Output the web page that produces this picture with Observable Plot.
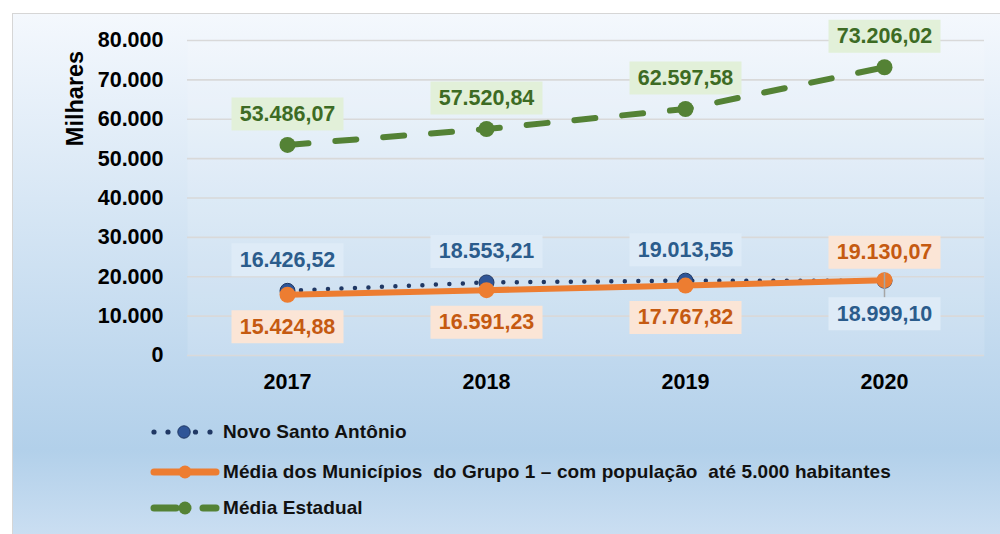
<!DOCTYPE html>
<html>
<head>
<meta charset="utf-8">
<script src="https://cdn.jsdelivr.net/npm/d3@7"></script>
<script src="https://cdn.jsdelivr.net/npm/@observablehq/plot@0.6"></script>
<style>
  html, body { margin: 0; padding: 0; background: #ffffff; overflow: hidden; }
  #wrap { position: relative; width: 1000px; height: 534px; overflow: hidden; font-family: "Liberation Sans", Arial, sans-serif; }
  #frame { position: absolute; left: 12px; top: 13px; width: 1000px; height: 540px; box-sizing: border-box;
    border: 1.5px solid #d6d6d6;
    background: linear-gradient(to bottom, #f4f8fd 0%, #b2d0ea 81%, #cfe1f3 100%); }
  #chart { position: absolute; left: 0; top: 0; }
  .leg { position: absolute; left: 150px; height: 24px; display: flex; align-items: center; }
  .leg svg { display: block; margin-right: 3px; }
  .leg span { font-size: 19px; font-weight: bold; color: #111; white-space: pre; letter-spacing: 0.1px; }
</style>
</head>
<body>
<div id="wrap">
  <div id="frame"></div>
  <div id="chart"></div>
  <div id="legend"></div>
</div>
<script>
// ---- data ----
const years = ["2017", "2018", "2019", "2020"];
const novoSanto = [16426.52, 18553.21, 19013.55, 18999.10];
const grupo1 = [15424.88, 16591.23, 17767.82, 19130.07];
const estadual = [53486.07, 57520.84, 62597.58, 73206.02];
const yTicks = [0, 10000, 20000, 30000, 40000, 50000, 60000, 70000, 80000];
const seriesNames = [
  "Novo Santo Antônio",
  "Média dos Municípios  do Grupo 1 – com população  até 5.000 habitantes",
  "Média Estadual"
];
const yLabel = "Milhares";

// ---- styling ----
const C = {
  blueLine: "#203864", blueMark: "#2f5597", blueText: "#2b5c8c", blueBox: "#deebf7",
  orange: "#ed7d31", orangeText: "#c55a11", orangeBox: "#fbe5d6",
  green: "#548235", greenText: "#3d6b24", greenBox: "#e2f0d9"
};

const loc = d3.formatLocale({decimal: ",", thousands: ".", grouping: [3], currency: ["R$", ""]});
const fmt2 = loc.format(",.2f");
const fmt0 = loc.format(",.0f");

const rows = [];
years.forEach((y, i) => {
  rows.push({s: "blue", year: y, v: novoSanto[i], label: fmt2(novoSanto[i]), above: novoSanto[i] >= grupo1[i]});
  rows.push({s: "orange", year: y, v: grupo1[i], label: fmt2(grupo1[i]), above: grupo1[i] > novoSanto[i]});
  rows.push({s: "green", year: y, v: estadual[i], label: fmt2(estadual[i]), above: true});
});
const by = (s) => rows.filter(d => d.s === s);

const boxSymbol = { draw(ctx) { ctx.rect(-56, -16.5, 112, 33); } };
const leaderSymbol = { draw(ctx) { ctx.moveTo(0, -8); ctx.lineTo(0, 17); } };

function labelMarks(s, textColor, boxColor) {
  const up = rows.filter(d => d.s === s && d.above);
  const dn = rows.filter(d => d.s === s && !d.above);
  const dyUp = s === "orange" ? -28 : -31;
  const dyDn = s === "blue" ? 33 : 32;
  return [
    Plot.dot(up, {x: "year", y: "v", symbol: boxSymbol, r: 5, fill: boxColor, stroke: "none", dy: dyUp}),
    Plot.dot(dn, {x: "year", y: "v", symbol: boxSymbol, r: 5, fill: boxColor, stroke: "none", dy: dyDn}),
    Plot.text(up, {x: "year", y: "v", text: "label", fill: textColor, fontSize: 21.5, fontWeight: "bold", dy: dyUp}),
    Plot.text(dn, {x: "year", y: "v", text: "label", fill: textColor, fontSize: 21.5, fontWeight: "bold", dy: dyDn})
  ];
}

const chart = Plot.plot({
  width: 1000,
  height: 400,
  marginLeft: 187,
  marginRight: 16,
  marginTop: 40,
  marginBottom: 45,
  style: {background: "transparent", fontFamily: "'Liberation Sans', Arial, sans-serif", fontSize: "21.5px", fontWeight: "bold", color: "#000"},
  x: {type: "point", domain: years, padding: 0.5},
  y: {domain: [0, 80000]},
  marks: [
    Plot.frame({fill: "#ffffff", fillOpacity: 0.12, stroke: "none"}),
    Plot.gridY(yTicks, {stroke: "#d9d9d9", strokeOpacity: 1, strokeWidth: 1.6}),
    Plot.axisY({ticks: yTicks, tickFormat: fmt0, tickSize: 0, tickPadding: 24, label: null, fill: "#000"}),
    Plot.axisX({tickSize: 0, tickPadding: 18, label: null, fill: "#000"}),
    Plot.text([yLabel], {frameAnchor: "top-left", textAnchor: "middle", lineAnchor: "middle", dx: -112, dy: 58, rotate: -90, fontSize: 23.5, fontWeight: "bold", fill: "#000"}),
    // Novo Santo Antônio
    Plot.line(by("blue"), {x: "year", y: "v", stroke: C.blueLine, strokeWidth: 4.5, strokeDasharray: "0 13.5", strokeLinecap: "round"}),
    Plot.dot(by("blue"), {x: "year", y: "v", r: 7.5, fill: C.blueMark, stroke: C.blueLine, strokeWidth: 1}),
    // Grupo 1
    Plot.line(by("orange"), {x: "year", y: "v", stroke: C.orange, strokeWidth: 6, strokeLinecap: "round"}),
    Plot.dot(by("orange"), {x: "year", y: "v", r: 8, fill: C.orange, stroke: "none"}),
    // Estadual
    Plot.line(by("green"), {x: "year", y: "v", stroke: C.green, strokeWidth: 6, strokeDasharray: "21 27", strokeLinecap: "round"}),
    Plot.dot(by("green"), {x: "year", y: "v", r: 8, fill: C.green, stroke: "none"}),
    // leader line for displaced label
    Plot.dot(rows.filter(d => d.s === "blue" && !d.above), {x: "year", y: "v", symbol: leaderSymbol, r: 5, fill: "none", stroke: "#a6a6a6", strokeWidth: 1.5}),
    ...labelMarks("green", C.greenText, C.greenBox),
    ...labelMarks("blue", C.blueText, C.blueBox),
    ...labelMarks("orange", C.orangeText, C.orangeBox)
  ]
});
document.getElementById("chart").appendChild(chart);

// ---- legend ----
const legendSwatches = [
  `<svg width="70" height="20">
     <circle cx="4" cy="10" r="2.6" fill="${C.blueLine}"/>
     <circle cx="18" cy="10" r="2.6" fill="${C.blueLine}"/>
     <circle cx="34" cy="10" r="6.2" fill="${C.blueMark}" stroke="${C.blueLine}" stroke-width="1"/>
     <circle cx="45.5" cy="10" r="2.6" fill="${C.blueLine}"/>
     <circle cx="60" cy="10" r="2.6" fill="${C.blueLine}"/>
   </svg>`,
  `<svg width="70" height="20">
     <line x1="4" y1="10" x2="66" y2="10" stroke="${C.orange}" stroke-width="7" stroke-linecap="round"/>
     <circle cx="35" cy="10" r="6.5" fill="${C.orange}"/>
   </svg>`,
  `<svg width="70" height="20">
     <line x1="4" y1="10" x2="26" y2="10" stroke="${C.green}" stroke-width="7" stroke-linecap="round"/>
     <circle cx="35" cy="10" r="6.5" fill="${C.green}"/>
     <line x1="53" y1="10" x2="66" y2="10" stroke="${C.green}" stroke-width="7" stroke-linecap="round"/>
   </svg>`
];
const legendTops = [420, 460, 496];
const legend = document.getElementById("legend");
seriesNames.forEach((name, i) => {
  const row = document.createElement("div");
  row.className = "leg";
  row.style.top = legendTops[i] + "px";
  row.innerHTML = legendSwatches[i] + `<span>${name}</span>`;
  legend.appendChild(row);
});
</script>
</body>
</html>
